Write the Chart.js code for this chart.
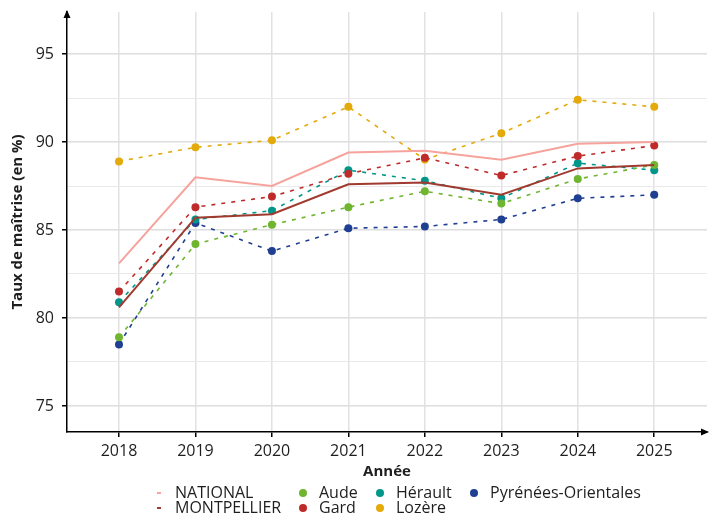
<!DOCTYPE html>
<html>
<head>
<meta charset="utf-8">
<script src="https://cdn.jsdelivr.net/npm/chart.js@4/dist/chart.umd.min.js"></script>
<style>
  html, body { margin:0; padding:0; background:#fff; }
  #wrap { position:relative; width:724px; height:515px; }
  #c { position:absolute; left:0; top:0; }
  #legend { position:absolute; left:0; top:485px; width:724px; height:30px; font-family:"Open Sans", sans-serif; font-size:16px; color:#1e1e1e; }
  .item { position:absolute; height:15px; line-height:15px; white-space:nowrap; }
  .mk { position:absolute; top:0; height:15px; width:10px; }
  .dot { position:absolute; left:1px; top:4px; width:8px; height:8px; border-radius:50%; }
  .dash { position:absolute; left:3px; top:7px; width:4px; height:2px; }
  .txt { position:absolute; left:21px; top:0; }
</style>
</head>
<body>
<div id="wrap">
<canvas id="c" width="724" height="515"></canvas>
<div id="legend"></div>
</div>
<script>
const years = [2018, 2019, 2020, 2021, 2022, 2023, 2024, 2025];
const national    = [83.1, 88.0, 87.5, 89.4, 89.5, 89.0, 89.9, 90.0];
const montpellier = [80.6, 85.7, 85.9, 87.6, 87.7, 87.0, 88.5, 88.7];
const aude        = [78.9, 84.2, 85.3, 86.3, 87.2, 86.5, 87.9, 88.7];
const gard        = [81.5, 86.3, 86.9, 88.2, 89.1, 88.1, 89.2, 89.8];
const herault     = [80.9, 85.6, 86.1, 88.4, 87.8, 86.8, 88.8, 88.4];
const lozere      = [88.9, 89.7, 90.1, 92.0, 89.0, 90.5, 92.4, 92.0];
const pyrenees    = [78.5, 85.4, 83.8, 85.1, 85.2, 85.6, 86.8, 87.0];
const yTicks = [75, 77.5, 80, 82.5, 85, 87.5, 90, 92.5, 95];

const series = [
  { label:'NATIONAL', data:national, color:'#f5a39c', kind:'line', col:0, row:0 },
  { label:'MONTPELLIER', data:montpellier, color:'#a03a2f', kind:'line', col:0, row:1 },
  { label:'Aude', data:aude, color:'#6fb52f', kind:'dot', col:1, row:0 },
  { label:'Gard', data:gard, color:'#bf2a2a', kind:'dot', col:1, row:1 },
  { label:'Hérault', data:herault, color:'#00978a', kind:'dot', col:2, row:0 },
  { label:'Lozère', data:lozere, color:'#e3aa0a', kind:'dot', col:2, row:1 },
  { label:'Pyrénées-Orientales', data:pyrenees, color:'#1f3f92', kind:'dot', col:3, row:0 }
];

const FONT = '"Open Sans", sans-serif';

const datasets = series.map(s => ({
  label: s.label,
  data: years.map((yr, i) => ({ x: yr, y: s.data[i] })),
  borderColor: s.color,
  backgroundColor: s.color,
  borderWidth: s.kind === 'line' ? 2 : 1.6,
  borderDash: s.kind === 'line' ? [] : [4, 6],
  pointRadius: s.kind === 'line' ? 0 : 4,
  pointHoverRadius: s.kind === 'line' ? 0 : 4,
  pointBorderWidth: 0,
  tension: 0,
  order: s.kind === 'line' ? 1 : 2
}));

const arrows = {
  id: 'arrows',
  afterDraw(chart) {
    const ctx = chart.ctx, a = chart.chartArea;
    ctx.save();
    ctx.fillStyle = '#000';
    ctx.beginPath();
    ctx.moveTo(a.left, a.top - 2);
    ctx.lineTo(a.left - 3.5, a.top + 6);
    ctx.lineTo(a.left + 3.5, a.top + 6);
    ctx.closePath(); ctx.fill();
    ctx.beginPath();
    ctx.moveTo(a.right + 2, a.bottom);
    ctx.lineTo(a.right - 6, a.bottom - 3.5);
    ctx.lineTo(a.right - 6, a.bottom + 3.5);
    ctx.closePath(); ctx.fill();
    ctx.restore();
  }
};

new Chart(document.getElementById('c'), {
  type: 'line',
  data: { datasets },
  plugins: [arrows],
  options: {
    responsive: false,
    animation: false,
    events: [],
    layout: { padding: { top: 12, right: 17, left: 0, bottom: 0 } },
    plugins: { legend: { display: false }, tooltip: { enabled: false } },
    scales: {
      x: {
        type: 'linear',
        min: 2017.32, max: 2025.69,
        afterBuildTicks: sc => { sc.ticks = years.map(v => ({ value: v })); },
        afterFit: sc => { sc.height = 83; sc.paddingLeft = 0; sc.paddingRight = 0; },
        ticks: { callback: v => String(v), font: { family: FONT, size: 16 }, color: '#1e1e1e', padding: 5, maxRotation: 0 },
        grid: { color: '#e2e2e2', lineWidth: 1.5, tickColor: '#000', tickLength: 5, tickWidth: 1.5 },
        border: { display: true, color: '#000', width: 1.5 },
        title: { display: true, text: 'Année', font: { family: FONT, size: 15, weight: 'bold' }, color: '#1e1e1e', padding: { top: 0, bottom: 34 } }
      },
      y: {
        type: 'linear',
        min: 73.52, max: 97.39,
        afterBuildTicks: sc => { sc.ticks = yTicks.map(v => ({ value: v })); },
        afterFit: sc => { sc.width = 67; sc.paddingTop = 0; sc.paddingBottom = 0; },
        ticks: { callback: v => (v % 5 === 0 ? String(v) : ''), font: { family: FONT, size: 16 }, color: '#1e1e1e', padding: 8 },
        grid: {
          color: c => (c.tick && c.tick.value % 5 === 0) ? '#dedede' : '#e9e9e9',
          lineWidth: c => (c.tick && c.tick.value % 5 === 0) ? 1.5 : 1,
          tickColor: c => (c.tick && c.tick.value % 5 === 0) ? '#000' : 'rgba(0,0,0,0)',
          tickLength: 5, tickWidth: 1.5
        },
        border: { display: true, color: '#000', width: 1.5 },
        title: { display: true, text: 'Taux de maîtrise (en %)', font: { family: FONT, size: 15, weight: 'bold' }, color: '#1e1e1e', padding: 9 }
      }
    }
  }
});

// HTML legend built from the series list
const colLeft = [154, 298, 375, 469];
const rowTop = [0, 15];
const lg = document.getElementById('legend');
series.forEach(s => {
  const it = document.createElement('div');
  it.className = 'item';
  it.style.left = colLeft[s.col] + 'px';
  it.style.top = rowTop[s.row] + 'px';
  const mk = document.createElement('span');
  mk.className = 'mk';
  const m = document.createElement('span');
  m.className = s.kind === 'line' ? 'dash' : 'dot';
  m.style.background = s.color;
  mk.appendChild(m);
  const t = document.createElement('span');
  t.className = 'txt';
  t.textContent = s.label;
  it.appendChild(mk); it.appendChild(t);
  lg.appendChild(it);
});
</script>
</body>
</html>
